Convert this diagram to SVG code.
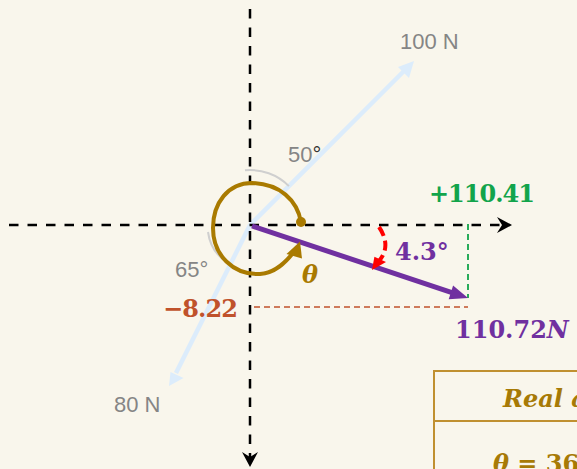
<svg xmlns="http://www.w3.org/2000/svg" width="577" height="469" viewBox="0 0 577 469">
<style>
.axis{stroke:#000;stroke-width:2.5;stroke-dasharray:9.5,9;fill:none}
.force{stroke:#dcecfb;stroke-width:4.5;fill:none}
.gray{fill:#858585;font-family:"Liberation Sans",Arial,sans-serif;font-size:22px}
.garc{stroke:#cfcfcf;stroke-width:2;fill:none}
.math{font-family:"DejaVu Serif","Liberation Serif",serif;font-weight:bold;font-size:24px}
</style>
<rect width="577" height="469" fill="#f9f6ec"/>
<g id="connectors">
  <g id="force-100">
    <line class="force" x1="250" y1="225" x2="405" y2="70"/>
    <polygon points="414,61 398,67 409,78" fill="#dcecfb"/>
  </g>
  <g id="force-80">
    <line class="force" x1="250" y1="225" x2="176" y2="373"/>
    <polygon points="169,386 170.5,372 183.5,378" fill="#dcecfb"/>
  </g>
  <g id="x-axis">
    <line class="axis" x1="9" y1="225" x2="503" y2="225"/>
    <polygon points="512,225 497,217 502,225 497,233" fill="#000"/>
  </g>
  <g id="y-axis">
    <line class="axis" x1="250" y1="9" x2="250" y2="458"/>
    <polygon points="250,467 242,452 250,457 258,452" fill="#000"/>
  </g>
  <g id="angle-arcs">
    <path class="garc" d="M245,170.3 A55,55 0 0 1 288.9,186.1"/>
    <path class="garc" d="M208,232 A43,43 0 0 0 228,263"/>
  </g>
  <g id="components">
    <line x1="468" y1="224" x2="468" y2="298" stroke="#12a44b" stroke-width="1.8" stroke-dasharray="6,4"/>
    <line x1="254" y1="307" x2="468" y2="307" stroke="#c0522b" stroke-width="1.5" stroke-dasharray="6,4"/>
  </g>
  <g id="resultant">
    <line x1="252" y1="226" x2="452" y2="292.6" stroke="#7030a0" stroke-width="5"/>
    <polygon points="468,298 453.1,285.4 448.7,299.2" fill="#7030a0"/>
  </g>
  <g id="small-angle-arc">
    <path d="M379,227 C388,240 387,252 379,261" stroke="#ff0000" stroke-width="4" stroke-dasharray="10,5" fill="none"/>
    <polygon points="372,270 374.4,256.8 386,262" fill="#ff0000"/>
  </g>
  <g id="theta-arc">
    <path d="M301,222 C297,200 280,184 252,183 C228,183 213,203 213,228 C213,255 233,275 260,274 C275,273 285,263 293,253" stroke="#a97a00" stroke-width="4" fill="none"/>
    <circle cx="301" cy="222" r="5" fill="#a97a00"/>
    <polygon points="300,241.5 286.5,254 302,258.5" fill="#a97a00"/>
  </g>
</g>
<g id="label-100N"><text class="gray" x="400" y="49">100 N</text></g>
<g id="label-80N"><text class="gray" x="114" y="412">80 N</text></g>
<g id="label-50"><text class="gray" x="288" y="162">50<tspan fill="#333">°</tspan></text></g>
<g id="label-65"><text class="gray" x="175" y="277">65°</text></g>
<g id="label-x"><text class="math" x="429" y="202" fill="#12a44b" textLength="106">+110.41</text></g>
<g id="label-y"><text class="math" x="163" y="317" fill="#c0522b" textLength="75">−8.22</text></g>
<g id="label-angle"><text class="math" x="395" y="260" fill="#7030a0" font-size="25">4.3°</text></g>
<g id="label-resultant"><text class="math" x="455" y="338" fill="#7030a0" font-size="25">110.72<tspan font-style="italic">N</tspan></text></g>
<g id="label-theta"><text class="math" x="302" y="283" fill="#a97a00" font-style="italic" font-size="24">θ</text></g>
<g id="table">
  <rect x="434" y="371" width="170" height="120" fill="none" stroke="#c09030" stroke-width="2"/>
  <line x1="434" y1="421" x2="604" y2="421" stroke="#c09030" stroke-width="2"/>
  <text class="math" x="503" y="407" fill="#a77a06" font-style="italic" font-size="23">Real a</text>
  <text class="math" x="493" y="472" fill="#a77a06" font-size="23"><tspan font-style="italic">θ</tspan> = 36</text>
</g>
</svg>
